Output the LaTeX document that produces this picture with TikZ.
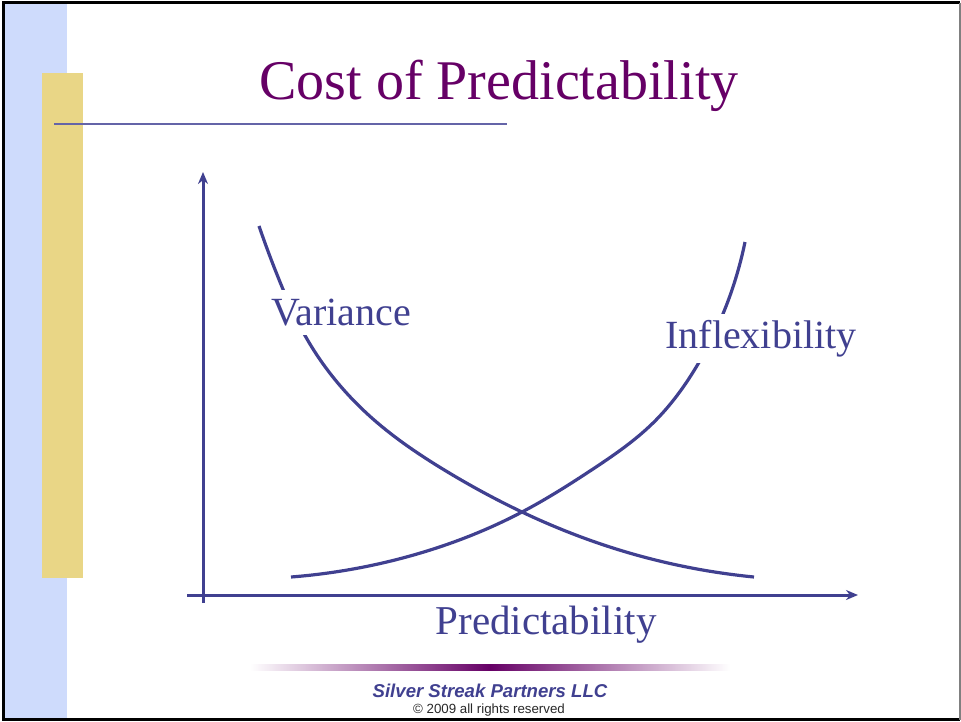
\documentclass[tikz,border=0pt]{standalone}
\usepackage{fontspec}
\setmainfont{Liberation Serif}
\newfontfamily\arialfont{Liberation Sans}
\usetikzlibrary{arrows.meta,hobby}
\definecolor{axisblue}{RGB}{64,64,144}
\definecolor{titlepurple}{RGB}{102,0,102}
\definecolor{stripblue}{RGB}{206,219,252}
\definecolor{baryellow}{RGB}{233,214,134}
\definecolor{ruleblue}{RGB}{100,100,168}
\definecolor{footgray}{RGB}{40,40,40}
\tikzset{
  axisline/.style={draw=axisblue, line width=3pt, -{Stealth[length=12pt,width=10pt]}},
  curveline/.style={draw=axisblue, line width=3.2pt, use Hobby shortcut},
  curvelabel/.style={font=\fontsize{40}{44}\selectfont, text=axisblue, fill=white, anchor=base, inner xsep=2pt},
}
\begin{document}
\begin{tikzpicture}[x=1pt,y=-1pt]
\useasboundingbox (0,0) rectangle (961,721);
% background strips
\fill[stripblue] (5,3) rectangle (67,718);
\fill[baryellow] (42,73) rectangle (83,578);
% frame
\draw[black, line width=3pt] (960,2.5) -- (3.5,2.5) -- (3.5,719.5) -- (960,719.5);
\draw[gray, line width=1.5pt] (960,2.5) -- (960,719.5);
% title rule
\coordinate (ruleL) at (54,124);
\coordinate (ruleR) at (507,124);
\draw[ruleblue, line width=1.6pt] (ruleL) -- (ruleR);
% title
\node[anchor=base, text=titlepurple, font=\fontsize{56}{60}\selectfont, inner sep=0pt] (title) at (499,99) {Cost of Predictability};
% axes
\coordinate (yB) at (203,603);
\coordinate (yT) at (203,172);
\coordinate (xL) at (187,595);
\coordinate (xR) at (858,595);
\draw[axisline] (yB) -- (yT);
\draw[axisline] (xL) -- (xR);
% curve points
\coordinate (v0) at (259,226);
\coordinate (v1) at (280,282);
\coordinate (v2) at (307,339);
\coordinate (v3) at (373,419);
\coordinate (v4) at (446,471);
\coordinate (cross) at (522,512);
\coordinate (v6) at (613,548);
\coordinate (v7) at (754,577);
\coordinate (i0) at (291,577);
\coordinate (i1) at (410,556);
\coordinate (i3) at (593,469);
\coordinate (i4) at (653,423);
\coordinate (i5) at (698,364);
\coordinate (i6) at (745,242);
\draw[curveline] (v0) .. (v1) .. (v2) .. (v3) .. (v4) .. (cross) .. (v6) .. (v7);
\draw[curveline] (i0) .. (i1) .. (cross) .. (i3) .. (i4) .. (i5) .. (i6);
% labels
\node[curvelabel, inner ysep=9pt] (variance) at (341,325) {Variance};
\node[curvelabel, inner ysep=6pt] (inflex) at (761,348) {Inflexibility};
\node[anchor=base, font=\fontsize{41}{44}\selectfont, text=axisblue] (pred) at (546,634) {Predictability};
% footer
\shade[left color=white, right color=titlepurple] (250,664) rectangle (490,670);
\shade[left color=titlepurple, right color=white] (490,664) rectangle (730,670);
\node[anchor=base, font=\arialfont\bfseries\itshape\fontsize{18.6}{20}\selectfont, text=axisblue, inner sep=0pt] (firm) at (490,697) {Silver Streak Partners LLC};
\node[anchor=base, font=\arialfont\fontsize{13.3}{15}\selectfont, text=footgray, inner sep=0pt] (copy) at (489,713) {© 2009 all rights reserved};
\end{tikzpicture}
\end{document}
